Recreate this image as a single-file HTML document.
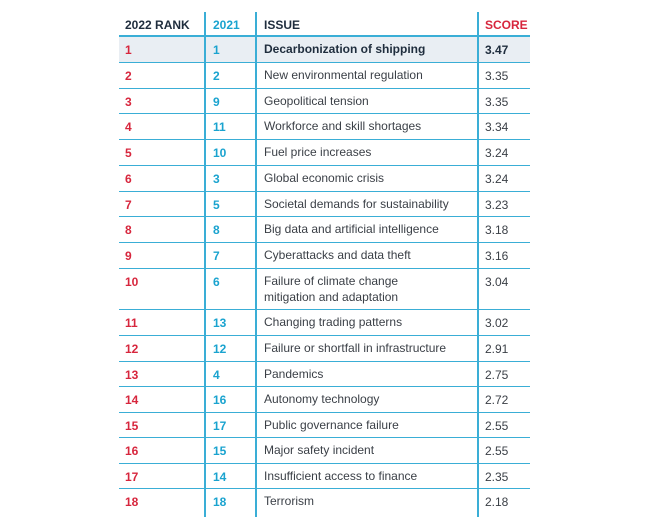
<!DOCTYPE html>
<html><head><style>
body{margin:0;width:649px;height:517px;background:#fff;overflow:hidden;font-family:"Liberation Sans",sans-serif;}
.t{position:absolute;left:119px;top:0;width:411px;}
.r{position:absolute;left:0;width:411px;border-bottom:1.5px solid #3aaed6;box-sizing:border-box;font-size:12px;color:#3a3f46;}
.r div{position:absolute;top:6px;}
.a{left:6px;color:#d7263d;font-weight:bold;}
.b{left:94px;color:#1aa3cf;font-weight:bold;}
.c{left:145px;line-height:16px;top:4px!important;}
.d{left:366px;}
.v{position:absolute;top:12px;bottom:0;width:2px;background:#3aaed6;}
.h div{font-weight:bold;color:#1f2d3d;top:6px;}
</style></head><body>
<div class="t" style="height:517px">
<div class="r h" style="top:12px;height:25px;border-bottom:2px solid #3aaed6"><div style="left:6px">2022 RANK</div><div style="left:94px;color:#1aa3cf">2021</div><div style="left:145px">ISSUE</div><div style="left:366px;color:#d7263d">SCORE</div></div>
<div class="r" style="top:37px;height:25.75px;background:#e9eef3;font-weight:bold;color:#1f2d3d"><div class="a">1</div><div class="b">1</div><div class="c" style="top:6px">Decarbonization of shipping</div><div class="d">3.47</div></div>
<div class="r" style="top:62.75px;height:25.75px"><div class="a">2</div><div class="b">2</div><div class="c">New environmental regulation</div><div class="d">3.35</div></div>
<div class="r" style="top:88.5px;height:25.75px"><div class="a">3</div><div class="b">9</div><div class="c">Geopolitical tension</div><div class="d">3.35</div></div>
<div class="r" style="top:114.25px;height:25.75px"><div class="a">4</div><div class="b">11</div><div class="c">Workforce and skill shortages</div><div class="d">3.34</div></div>
<div class="r" style="top:140px;height:25.75px"><div class="a">5</div><div class="b">10</div><div class="c">Fuel price increases</div><div class="d">3.24</div></div>
<div class="r" style="top:165.75px;height:25.75px"><div class="a">6</div><div class="b">3</div><div class="c">Global economic crisis</div><div class="d">3.24</div></div>
<div class="r" style="top:191.5px;height:25.75px"><div class="a">7</div><div class="b">5</div><div class="c">Societal demands for sustainability</div><div class="d">3.23</div></div>
<div class="r" style="top:217.25px;height:25.75px"><div class="a">8</div><div class="b">8</div><div class="c">Big data and artificial intelligence</div><div class="d">3.18</div></div>
<div class="r" style="top:243px;height:25.75px"><div class="a">9</div><div class="b">7</div><div class="c">Cyberattacks and data theft</div><div class="d">3.16</div></div>
<div class="r" style="top:268.75px;height:41.25px"><div class="a">10</div><div class="b">6</div><div class="c">Failure of climate change<br>mitigation and adaptation</div><div class="d">3.04</div></div>
<div class="r" style="top:310px;height:26px"><div class="a">11</div><div class="b">13</div><div class="c">Changing trading patterns</div><div class="d">3.02</div></div>
<div class="r" style="top:336px;height:25.5px"><div class="a">12</div><div class="b">12</div><div class="c">Failure or shortfall in infrastructure</div><div class="d">2.91</div></div>
<div class="r" style="top:361.5px;height:25.5px"><div class="a">13</div><div class="b">4</div><div class="c">Pandemics</div><div class="d">2.75</div></div>
<div class="r" style="top:387px;height:25.5px"><div class="a">14</div><div class="b">16</div><div class="c">Autonomy technology</div><div class="d">2.72</div></div>
<div class="r" style="top:412.5px;height:25.5px"><div class="a">15</div><div class="b">17</div><div class="c">Public governance failure</div><div class="d">2.55</div></div>
<div class="r" style="top:438px;height:25.5px"><div class="a">16</div><div class="b">15</div><div class="c">Major safety incident</div><div class="d">2.55</div></div>
<div class="r" style="top:463.5px;height:25.5px"><div class="a">17</div><div class="b">14</div><div class="c">Insufficient access to finance</div><div class="d">2.35</div></div>
<div class="r" style="top:489px;height:28px;border:none"><div class="a">18</div><div class="b">18</div><div class="c">Terrorism</div><div class="d">2.18</div></div>
<div class="v" style="left:85px"></div>
<div class="v" style="left:136px"></div>
<div class="v" style="left:358px"></div>
</div>
</body></html>
